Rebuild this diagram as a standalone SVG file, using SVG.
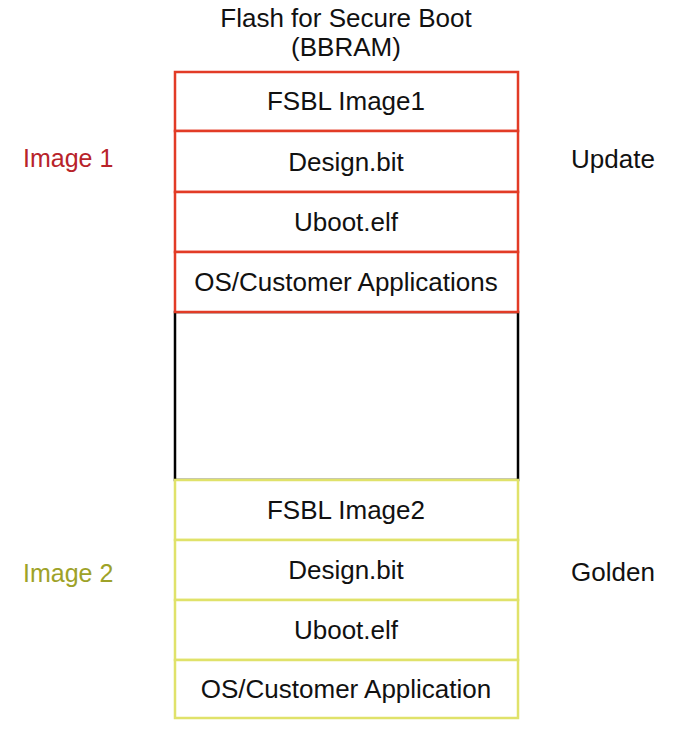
<svg xmlns="http://www.w3.org/2000/svg" width="684" height="732" viewBox="0 0 684 732">
<style>
text{font-family:"Liberation Sans",Arial,sans-serif;font-size:26px;fill:#111;text-anchor:middle;dominant-baseline:central}
.r{fill:#fff;stroke:#e23b26;stroke-width:2.5}
.y{fill:#fff;stroke:#e0e26a;stroke-width:2.5}
.k{fill:#fff;stroke:#000;stroke-width:2.5}
.lr{fill:#b8232a;text-anchor:start;font-size:25px}
.ly{fill:#9ea228;text-anchor:start;font-size:25px}
.side{text-anchor:start}
</style>
<rect width="684" height="732" fill="#fff"/>
<g id="title"><text x="346" y="18">Flash for Secure Boot</text><text x="346" y="47">(BBRAM)</text></g>
<g id="blank"><rect class="k" x="175" y="312" width="343" height="168"/></g>
<g id="fsbl1"><rect class="r" x="175" y="72" width="343" height="59"/><text x="346" y="101">FSBL Image1</text></g>
<g id="design1"><rect class="r" x="175" y="131" width="343" height="61"/><text x="346" y="162">Design.bit</text></g>
<g id="uboot1"><rect class="r" x="175" y="192" width="343" height="60"/><text x="346" y="222">Uboot.elf</text></g>
<g id="os1"><rect class="r" x="175" y="252" width="343" height="60"/><text x="346" y="282">OS/Customer Applications</text></g>
<g id="fsbl2"><rect class="y" x="175" y="480" width="343" height="60"/><text x="346" y="510">FSBL Image2</text></g>
<g id="design2"><rect class="y" x="175" y="540" width="343" height="60"/><text x="346" y="570">Design.bit</text></g>
<g id="uboot2"><rect class="y" x="175" y="600" width="343" height="60"/><text x="346" y="630">Uboot.elf</text></g>
<g id="os2"><rect class="y" x="175" y="660" width="343" height="58"/><text x="346" y="689">OS/Customer Application</text></g>
<g id="labels">
<text class="lr" x="23" y="158">Image 1</text>
<text class="side" x="571" y="159">Update</text>
<text class="ly" x="23" y="573">Image 2</text>
<text class="side" x="571" y="572">Golden</text>
</g>
<g id="connectors"></g>
</svg>
